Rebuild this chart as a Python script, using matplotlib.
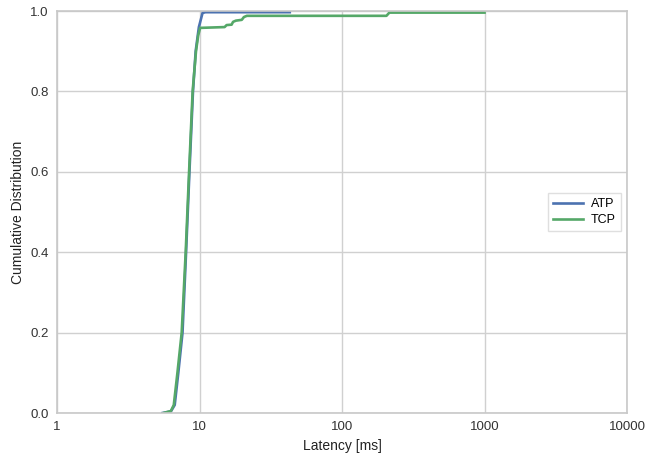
import numpy as np
import matplotlib
matplotlib.use('Agg')
import matplotlib.pyplot as plt
from matplotlib.ticker import FixedLocator, FixedFormatter

plt.rcParams['font.family'] = ['Liberation Sans', 'DejaVu Sans']

# CDF points (latency in ms, cumulative fraction)
atp_x = [5.5, 6.3, 6.7, 7.1, 7.6, 8.05, 8.5, 9.0, 9.4, 9.9, 10.5, 11.0, 43.0]
atp_y = [0.0, 0.004, 0.02, 0.1, 0.2, 0.4, 0.6, 0.8, 0.9, 0.96, 0.995, 0.997, 0.997]

tcp_x = [5.6, 6.3, 6.6, 7.0, 7.5, 8.0, 8.45, 8.95, 9.45, 9.8, 10.1, 15.0, 15.5,
         16.8, 17.2, 18.0, 19.8, 20.5, 21.5, 205.0, 215.0, 1000.0]
tcp_y = [0.0, 0.005, 0.02, 0.1, 0.2, 0.4, 0.6, 0.8, 0.9, 0.94, 0.958, 0.96, 0.965,
         0.966, 0.973, 0.976, 0.978, 0.985, 0.988, 0.988, 0.996, 0.996]

xticks = [1, 10, 100, 1000, 10000]
xlabels = ['1', '10', '100', '1000', '10000']
yticks = [0.0, 0.2, 0.4, 0.6, 0.8, 1.0]

fig = plt.figure(figsize=(6.45, 4.58), dpi=100)
ax = fig.add_axes([57/645, 1 - 413/458, 570/645, 402/458])

ax.plot(atp_x, atp_y, color='#4C72B0', lw=1.9, label='ATP')
ax.plot(tcp_x, tcp_y, color='#55A868', lw=1.9, label='TCP')

ax.set_xscale('log')
ax.set_xlim(1, 10000)
ax.set_ylim(0, 1)
ax.xaxis.set_major_locator(FixedLocator(xticks))
ax.xaxis.set_major_formatter(FixedFormatter(xlabels))
ax.xaxis.set_minor_locator(FixedLocator([]))
ax.set_yticks(yticks)
ax.set_yticklabels(['%.1f' % v for v in yticks])

ax.grid(True, color='#d0d0d0', lw=1.0)
ax.set_axisbelow(True)
for s in ax.spines.values():
    s.set_color('#c8c8c8')
    s.set_linewidth(1.2)
ax.tick_params(length=0, labelsize=9.5, pad=6, colors='#333333')

ax.set_xlabel('Latency [ms]', fontsize=10, color='#222222')
ax.set_ylabel('Cumulative Distribution', fontsize=10, color='#222222')

leg = ax.legend(loc='center right', fontsize=9, frameon=True, fancybox=False,
                handlelength=2.4, borderpad=0.4, handletextpad=0.6,
                labelspacing=0.3, borderaxespad=0.5)
leg.get_frame().set_edgecolor('#d8d8d8')

fig.savefig('out.png', dpi=100)
